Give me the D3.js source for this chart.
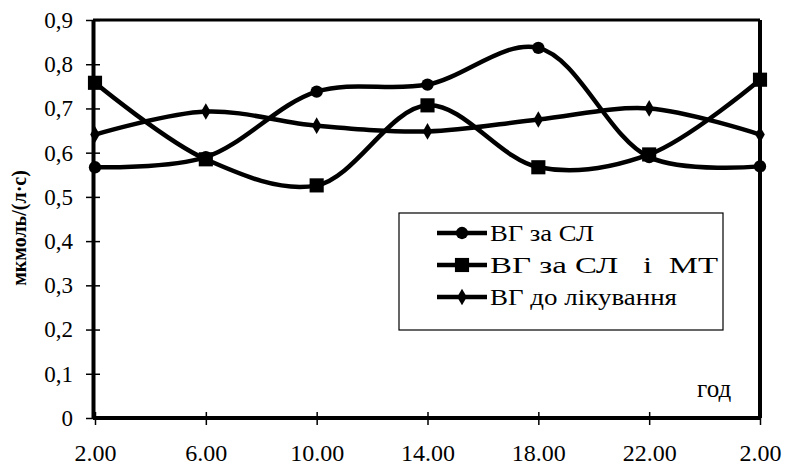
<!DOCTYPE html>
<html><head><meta charset="utf-8">
<script src="https://cdn.jsdelivr.net/npm/d3@7"></script>
<style>body{margin:0;background:#fff}svg{display:block}</style>
</head><body>
<svg id="c" width="787" height="467"></svg>
<script>
const categories = ["2.00","6.00","10.00","14.00","18.00","22.00","2.00 "];
const seriesNames = ["ВГ за СЛ","ВГ за СЛ   і  МТ","ВГ до лікування"];
const seriesCircle = [0.567,0.590,0.738,0.754,0.837,0.590,0.569];
const seriesSquare = [0.758,0.585,0.526,0.707,0.567,0.596,0.765];
const seriesDiamond = [0.641,0.693,0.661,0.648,0.675,0.700,0.641];
const yTicks = [0,0.1,0.2,0.3,0.4,0.5,0.6,0.7,0.8,0.9];
const yLabel = "мкмоль/(л·с)";
const xUnit = "год";

const svg = d3.select("#c");
const L=93,R=760,T=20,B=418;
const x = d3.scalePoint().domain(categories).range([L+2,R]);
const y = d3.scaleLinear().domain([0,0.9]).range([B,T]);
const serif = "'Liberation Serif','Times New Roman',serif";

// plot border
svg.append("line").attr("x1",L).attr("x2",R).attr("y1",T).attr("y2",T).attr("stroke","#000").attr("stroke-width",3);
svg.append("line").attr("x1",R).attr("x2",R).attr("y1",T).attr("y2",B).attr("stroke","#000").attr("stroke-width",4);

// y axis
const ya = svg.append("g").attr("transform",`translate(${L},0)`)
  .call(d3.axisLeft(y).tickValues(yTicks).tickSizeInner(7).tickSizeOuter(0).tickPadding(14)
    .tickFormat(d=>d3.format(".1f")(d).replace(".",",").replace(/^0,0$/,"0")));
ya.select(".domain").attr("stroke-width",4);
ya.selectAll(".tick line").attr("x2",7).attr("x1",-7).attr("stroke-width",1.5);
ya.selectAll("text").attr("font-family",serif).attr("font-size",23).attr("fill","#000").attr("x",-20);

// x axis
const xa = svg.append("g").attr("transform",`translate(0,${B})`)
  .call(d3.axisBottom(x).tickSizeInner(7).tickSizeOuter(0).tickPadding(19));
xa.select(".domain").attr("stroke-width",4).attr("d",`M${L},0H${R}`);
xa.selectAll(".tick line").attr("y1",-6).attr("y2",7).attr("stroke-width",1.5);
xa.selectAll("text").attr("font-family",serif).attr("font-size",24).attr("fill","#000").text(d=>d.trim());

// labels
svg.append("text").attr("transform","translate(26,228) rotate(-90)").attr("text-anchor","middle")
  .attr("font-family",serif).attr("font-weight","bold").attr("font-size",20).text(yLabel);
svg.append("text").attr("x",697).attr("y",397).attr("font-family",serif).attr("font-size",25).text(xUnit);

const line = d3.line().x((d,i)=>x(categories[i])).y(d=>y(d)).curve(d3.curveCatmullRom.alpha(0.5));
const data = [seriesCircle,seriesSquare,seriesDiamond];
const shapes = [d3.symbolCircle,d3.symbolSquare,d3.symbolDiamond];
const sizes = [120,200,80];
data.forEach((s,k)=>{
  svg.append("path").attr("d",line(s)).attr("fill","none").attr("stroke","#000").attr("stroke-width",4.5);
});
data.forEach((s,k)=>{
  svg.append("g").selectAll("path").data(s).join("path")
    .attr("transform",(d,i)=>`translate(${x(categories[i])},${y(d)})`)
    .attr("d",d3.symbol().type(shapes[k]).size(sizes[k])).attr("fill","#000");
});

// legend
const lg = svg.append("g");
lg.append("rect").attr("x",399).attr("y",213).attr("width",324).attr("height",117).attr("fill","#fff").attr("stroke","#000").attr("stroke-width",1.2);
const legendLens = [104,228,187];
seriesNames.forEach((n,k)=>{
  const yy = 233 + k*32;
  lg.append("line").attr("x1",437).attr("x2",487).attr("y1",yy).attr("y2",yy).attr("stroke","#000").attr("stroke-width",4.5);
  lg.append("path").attr("transform",`translate(462,${yy})`).attr("d",d3.symbol().type(shapes[k]).size(sizes[k])).attr("fill","#000");
  lg.append("text").attr("x",490).attr("y",yy+8).attr("font-family",serif).attr("font-size",24)
    .attr("xml:space","preserve").style("white-space","pre")
    .attr("textLength",legendLens[k]).attr("lengthAdjust","spacingAndGlyphs").text(n);
});
</script>
</body></html>
